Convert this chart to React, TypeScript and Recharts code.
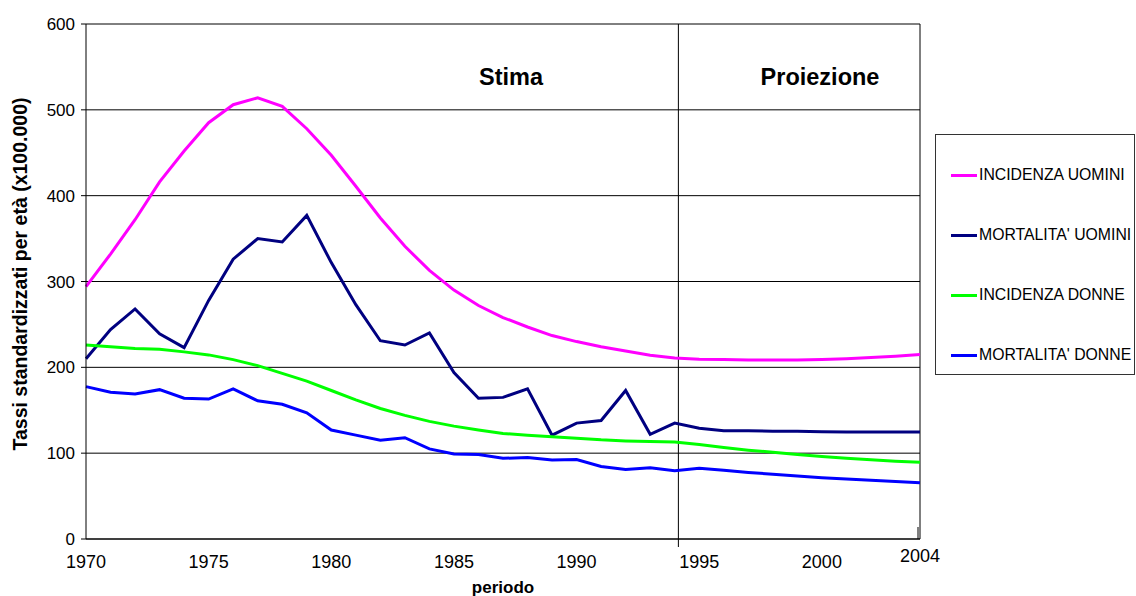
import React from "react";
import {
  CartesianGrid,
  Label,
  Legend,
  Line,
  LineChart,
  ReferenceLine,
  XAxis,
  YAxis,
} from "recharts";

const FONT = '"Liberation Sans", Arial, sans-serif';

// years 1970 … 2004
const years = [
  1970, 1971, 1972, 1973, 1974, 1975, 1976, 1977, 1978, 1979, 1980, 1981,
  1982, 1983, 1984, 1985, 1986, 1987, 1988, 1989, 1990, 1991, 1992, 1993,
  1994, 1995, 1996, 1997, 1998, 1999, 2000, 2001, 2002, 2003, 2004,
];

const incidenzaUomini = [
  294, 332, 372, 416, 452, 485, 506, 514, 504, 478, 447, 411, 374, 341, 313,
  290, 272, 258, 247, 237, 230, 224, 219, 214, 211, 209.5, 209, 208.5, 208.5,
  208.5, 209, 210, 211.5, 213, 215,
];

const mortalitaUomini = [
  210, 244, 268, 239, 223, 278, 326, 350, 346, 377, 322, 273, 231, 226, 240,
  194, 164, 165, 175, 121, 135, 138, 173, 122, 135, 129, 126, 126, 125.5,
  125.5, 125, 124.8, 124.7, 124.7, 124.7,
];

const incidenzaDonne = [
  226, 224, 222, 221, 218, 214.5, 209, 202, 193, 184, 173, 162, 152, 144, 137,
  131.5, 127, 123, 121, 119, 117.4, 115.5, 114.3, 113.5, 113, 110, 106.5,
  103.5, 101, 98.5, 96, 94, 92.3, 90.7, 89.4,
];

const mortalitaDonne = [
  177.5, 171, 169, 174, 164, 163, 175, 161, 157, 147, 127, 121, 115, 118, 105,
  99, 98.5, 94, 95, 92, 92.5, 84.5, 81, 83, 79.6, 82.5, 80, 77.5, 75.5, 73.5,
  71.5, 70, 68.5, 67, 65.5,
];

const xTicks = [1970, 1975, 1980, 1985, 1990, 1995, 2000, 2004];
const yTicks = [0, 100, 200, 300, 400, 500, 600];

// boundary between estimate and projection
const splitYear = 1994.15;

const series = [
  { key: "incU", name: "INCIDENZA UOMINI", color: "#FF00FF" },
  { key: "morU", name: "MORTALITA' UOMINI", color: "#000080" },
  { key: "incD", name: "INCIDENZA DONNE", color: "#00FF00" },
  { key: "morD", name: "MORTALITA' DONNE", color: "#0000FF" },
];

const data = years.map((y, i) => ({
  year: y,
  incU: incidenzaUomini[i],
  morU: mortalitaUomini[i],
  incD: incidenzaDonne[i],
  morD: mortalitaDonne[i],
}));

function XTick(props: any) {
  const { x, y, payload } = props;
  const last = payload.value === 2004;
  return (
    <g>
      {last && (
        <line x1={x - 2} y1={y - 12} x2={x - 2} y2={y} stroke="#000" />
      )}
      <text
        x={x}
        y={y}
        dy={last ? 17 : 23}
        textAnchor="middle"
        dominantBaseline="central"
        fontSize={18}
        fontFamily={FONT}
        fill="#000"
      >
        {payload.value}
      </text>
    </g>
  );
}

function LegendBox() {
  return (
    <div
      style={{
        width: 200,
        height: 241,
        boxSizing: "border-box",
        border: "1px solid #333",
        background: "#fff",
        paddingTop: 18,
        fontFamily: FONT,
        fontSize: 15.8,
        color: "#000",
      }}
    >
      {series.map((s) => (
        <div
          key={s.key}
          style={{
            display: "flex",
            alignItems: "center",
            height: 60,
            marginTop: -8,
            marginBottom: 8,
            paddingLeft: 15,
            whiteSpace: "nowrap",
          }}
        >
          <span
            style={{
              display: "inline-block",
              width: 26,
              height: 3,
              background: s.color,
              marginRight: 2,
            }}
          />
          {s.name}
        </div>
      ))}
    </div>
  );
}

export default function App() {
  return (
    <div
      style={{
        position: "absolute",
        left: 0,
        top: 0,
        width: 1136,
        height: 596,
        background: "#fff",
        fontFamily: FONT,
      }}
    >
      <LineChart
        width={1136}
        height={596}
        data={data}
        margin={{ top: 24, right: 216, bottom: 0, left: 0 }}
      >
        <CartesianGrid vertical={false} stroke="#000" strokeWidth={1} />
        <XAxis
          dataKey="year"
          type="number"
          domain={[1970, 2004]}
          ticks={xTicks}
          interval={0}
          height={57}
          tickSize={0}
          tickMargin={0}
          tick={<XTick />}
          axisLine={{ stroke: "#000" }}
          tickLine={false}
        >
          <Label
            value="periodo"
            position="insideBottom"
            offset={3}
            style={{
              fontWeight: "bold",
              fontSize: 17,
              fontFamily: FONT,
              fill: "#000",
            }}
          />
        </XAxis>
        <YAxis
          type="number"
          domain={[0, 600]}
          ticks={yTicks}
          width={86}
          tickSize={5}
          tickMargin={6}
          tick={{ fontSize: 17, fill: "#000", fontFamily: FONT }}
          axisLine={{ stroke: "#000" }}
          tickLine={{ stroke: "#000" }}
        >
          <Label
            content={() => (
              <text
                x={20}
                y={274}
                transform="rotate(-90, 20, 274)"
                textAnchor="middle"
                dominantBaseline="central"
                fontWeight="bold"
                fontSize={19.5}
                fontFamily={FONT}
                fill="#000"
              >
                Tassi standardizzati per età (x100.000)
              </text>
            )}
          />
        </YAxis>
        <ReferenceLine x={2004} stroke="#000" />
        <ReferenceLine
          x={splitYear}
          stroke="#000"
          shape={(p: any) => (
            <line
              x1={p.x1}
              x2={p.x2}
              y1={Math.min(p.y1, p.y2)}
              y2={Math.max(p.y1, p.y2) + 8}
              stroke="#000"
              strokeWidth={1}
            />
          )}
        />
        <Legend
          layout="vertical"
          align="center"
          verticalAlign="middle"
          wrapperStyle={{ left: 935, top: 134, width: 200 }}
          content={() => <LegendBox />}
        />
        {series.map((s) => (
          <Line
            key={s.key}
            type="linear"
            dataKey={s.key}
            name={s.name}
            stroke={s.color}
            strokeWidth={3}
            dot={false}
            activeDot={false}
            isAnimationActive={false}
          />
        ))}
      </LineChart>
      <div
        style={{
          position: "absolute",
          left: 411,
          width: 200,
          top: 64,
          textAlign: "center",
          fontWeight: "bold",
          fontSize: 23.5,
        }}
      >
        Stima
      </div>
      <div
        style={{
          position: "absolute",
          left: 720,
          width: 200,
          top: 64,
          textAlign: "center",
          fontWeight: "bold",
          fontSize: 23.5,
        }}
      >
        Proiezione
      </div>
    </div>
  );
}
